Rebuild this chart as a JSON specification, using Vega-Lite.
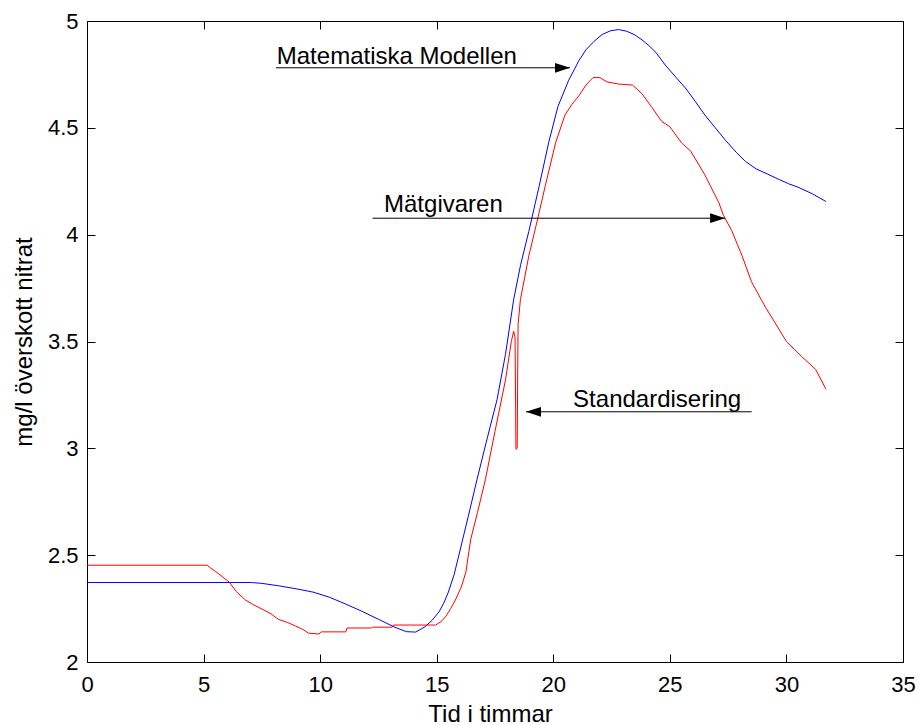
{
  "$schema": "https://vega.github.io/schema/vega-lite/v6.json",
  "autosize": "none",
  "width": 816,
  "height": 641,
  "padding": {"left": 87, "top": 21, "right": 15, "bottom": 63},
  "background": "white",
  "config": {
    "view": {"stroke": null},
    "font": "Liberation Sans",
    "axis": {
      "labelFont": "Liberation Sans",
      "labelFontSize": 22,
      "labelColor": "black",
      "titleFont": "Liberation Sans",
      "titleFontSize": 24,
      "titleFontWeight": "normal",
      "titleColor": "black",
      "domainColor": "black",
      "domainWidth": 1,
      "tickColor": "black",
      "tickWidth": 1,
      "tickSize": -8,
      "grid": false
    }
  },
  "datasets": {
    "lines": [
      {"series": "Matematiska modellen", "t": 0, "v": 2.372},
      {"series": "Matematiska modellen", "t": 7.05, "v": 2.372},
      {"series": "Matematiska modellen", "t": 7.5, "v": 2.368},
      {"series": "Matematiska modellen", "t": 8.2, "v": 2.357},
      {"series": "Matematiska modellen", "t": 9.0, "v": 2.342},
      {"series": "Matematiska modellen", "t": 9.7, "v": 2.327},
      {"series": "Matematiska modellen", "t": 10.4, "v": 2.303},
      {"series": "Matematiska modellen", "t": 11.1, "v": 2.271},
      {"series": "Matematiska modellen", "t": 11.8, "v": 2.237},
      {"series": "Matematiska modellen", "t": 12.5, "v": 2.2},
      {"series": "Matematiska modellen", "t": 13.2, "v": 2.163},
      {"series": "Matematiska modellen", "t": 13.7, "v": 2.142},
      {"series": "Matematiska modellen", "t": 14.1, "v": 2.14},
      {"series": "Matematiska modellen", "t": 14.5, "v": 2.165},
      {"series": "Matematiska modellen", "t": 14.8, "v": 2.195},
      {"series": "Matematiska modellen", "t": 15.1, "v": 2.235},
      {"series": "Matematiska modellen", "t": 15.3, "v": 2.275},
      {"series": "Matematiska modellen", "t": 15.5, "v": 2.327},
      {"series": "Matematiska modellen", "t": 15.75, "v": 2.41},
      {"series": "Matematiska modellen", "t": 15.95, "v": 2.5},
      {"series": "Matematiska modellen", "t": 16.35, "v": 2.68},
      {"series": "Matematiska modellen", "t": 16.73, "v": 2.855},
      {"series": "Matematiska modellen", "t": 17.15, "v": 3.04},
      {"series": "Matematiska modellen", "t": 17.59, "v": 3.229},
      {"series": "Matematiska modellen", "t": 17.95, "v": 3.44},
      {"series": "Matematiska modellen", "t": 18.3, "v": 3.696},
      {"series": "Matematiska modellen", "t": 18.6, "v": 3.86},
      {"series": "Matematiska modellen", "t": 18.95, "v": 4.015},
      {"series": "Matematiska modellen", "t": 19.4, "v": 4.23},
      {"series": "Matematiska modellen", "t": 19.8, "v": 4.43},
      {"series": "Matematiska modellen", "t": 20.2, "v": 4.6},
      {"series": "Matematiska modellen", "t": 20.65, "v": 4.72},
      {"series": "Matematiska modellen", "t": 21.1, "v": 4.815},
      {"series": "Matematiska modellen", "t": 21.4, "v": 4.865},
      {"series": "Matematiska modellen", "t": 21.75, "v": 4.905},
      {"series": "Matematiska modellen", "t": 22.1, "v": 4.937},
      {"series": "Matematiska modellen", "t": 22.45, "v": 4.954},
      {"series": "Matematiska modellen", "t": 22.8, "v": 4.96},
      {"series": "Matematiska modellen", "t": 23.15, "v": 4.952},
      {"series": "Matematiska modellen", "t": 23.5, "v": 4.935},
      {"series": "Matematiska modellen", "t": 23.85, "v": 4.908},
      {"series": "Matematiska modellen", "t": 24.1, "v": 4.885},
      {"series": "Matematiska modellen", "t": 24.4, "v": 4.853},
      {"series": "Matematiska modellen", "t": 24.8, "v": 4.794},
      {"series": "Matematiska modellen", "t": 25.25, "v": 4.738},
      {"series": "Matematiska modellen", "t": 25.7, "v": 4.682},
      {"series": "Matematiska modellen", "t": 26.1, "v": 4.622},
      {"series": "Matematiska modellen", "t": 26.5, "v": 4.56},
      {"series": "Matematiska modellen", "t": 26.95, "v": 4.5},
      {"series": "Matematiska modellen", "t": 27.4, "v": 4.44},
      {"series": "Matematiska modellen", "t": 27.85, "v": 4.385},
      {"series": "Matematiska modellen", "t": 28.25, "v": 4.342},
      {"series": "Matematiska modellen", "t": 28.7, "v": 4.308},
      {"series": "Matematiska modellen", "t": 29.2, "v": 4.283},
      {"series": "Matematiska modellen", "t": 29.65, "v": 4.26},
      {"series": "Matematiska modellen", "t": 30.1, "v": 4.238},
      {"series": "Matematiska modellen", "t": 30.5, "v": 4.222},
      {"series": "Matematiska modellen", "t": 31.1, "v": 4.192},
      {"series": "Matematiska modellen", "t": 31.7, "v": 4.155},
      {"series": "Mätgivaren", "t": 0, "v": 2.453},
      {"series": "Mätgivaren", "t": 5.15, "v": 2.453},
      {"series": "Mätgivaren", "t": 5.3, "v": 2.44},
      {"series": "Mätgivaren", "t": 5.5, "v": 2.425},
      {"series": "Mätgivaren", "t": 5.8, "v": 2.4},
      {"series": "Mätgivaren", "t": 6.1, "v": 2.374},
      {"series": "Mätgivaren", "t": 6.4, "v": 2.33},
      {"series": "Mätgivaren", "t": 6.8, "v": 2.29},
      {"series": "Mätgivaren", "t": 7.1, "v": 2.27},
      {"series": "Mätgivaren", "t": 7.5, "v": 2.248},
      {"series": "Mätgivaren", "t": 7.9, "v": 2.225},
      {"series": "Mätgivaren", "t": 8.2, "v": 2.2},
      {"series": "Mätgivaren", "t": 8.6, "v": 2.185},
      {"series": "Mätgivaren", "t": 8.95, "v": 2.168},
      {"series": "Mätgivaren", "t": 9.3, "v": 2.15},
      {"series": "Mätgivaren", "t": 9.5, "v": 2.135},
      {"series": "Mätgivaren", "t": 9.95, "v": 2.131},
      {"series": "Mätgivaren", "t": 10.05, "v": 2.141},
      {"series": "Mätgivaren", "t": 11.1, "v": 2.141},
      {"series": "Mätgivaren", "t": 11.15, "v": 2.159},
      {"series": "Mätgivaren", "t": 12.2, "v": 2.159},
      {"series": "Mätgivaren", "t": 12.25, "v": 2.163},
      {"series": "Mätgivaren", "t": 13.1, "v": 2.163},
      {"series": "Mätgivaren", "t": 13.15, "v": 2.173},
      {"series": "Mätgivaren", "t": 14.95, "v": 2.173},
      {"series": "Mätgivaren", "t": 15.2, "v": 2.19},
      {"series": "Mätgivaren", "t": 15.4, "v": 2.215},
      {"series": "Mätgivaren", "t": 15.6, "v": 2.25},
      {"series": "Mätgivaren", "t": 15.8, "v": 2.29},
      {"series": "Mätgivaren", "t": 16.05, "v": 2.35},
      {"series": "Mätgivaren", "t": 16.25, "v": 2.42},
      {"series": "Mätgivaren", "t": 16.46, "v": 2.575},
      {"series": "Mätgivaren", "t": 16.75, "v": 2.7},
      {"series": "Mätgivaren", "t": 17.09, "v": 2.855},
      {"series": "Mätgivaren", "t": 17.5, "v": 3.08},
      {"series": "Mätgivaren", "t": 17.95, "v": 3.32},
      {"series": "Mätgivaren", "t": 18.2, "v": 3.5},
      {"series": "Mätgivaren", "t": 18.3, "v": 3.548},
      {"series": "Mätgivaren", "t": 18.36, "v": 3.52},
      {"series": "Mätgivaren", "t": 18.4, "v": 2.995},
      {"series": "Mätgivaren", "t": 18.45, "v": 3.0},
      {"series": "Mätgivaren", "t": 18.49, "v": 3.58},
      {"series": "Mätgivaren", "t": 18.59, "v": 3.696},
      {"series": "Mätgivaren", "t": 18.95, "v": 3.9},
      {"series": "Mätgivaren", "t": 19.3, "v": 4.06},
      {"series": "Mätgivaren", "t": 19.66, "v": 4.23},
      {"series": "Mätgivaren", "t": 20.1, "v": 4.43},
      {"series": "Mätgivaren", "t": 20.5, "v": 4.56},
      {"series": "Mätgivaren", "t": 20.8, "v": 4.61},
      {"series": "Mätgivaren", "t": 21.1, "v": 4.65},
      {"series": "Mätgivaren", "t": 21.4, "v": 4.7},
      {"series": "Mätgivaren", "t": 21.7, "v": 4.735},
      {"series": "Mätgivaren", "t": 22.0, "v": 4.735},
      {"series": "Mätgivaren", "t": 22.3, "v": 4.715},
      {"series": "Mätgivaren", "t": 22.8, "v": 4.705},
      {"series": "Mätgivaren", "t": 23.4, "v": 4.7},
      {"series": "Mätgivaren", "t": 23.8, "v": 4.66},
      {"series": "Mätgivaren", "t": 24.2, "v": 4.6},
      {"series": "Mätgivaren", "t": 24.65, "v": 4.53},
      {"series": "Mätgivaren", "t": 25.0, "v": 4.505},
      {"series": "Mätgivaren", "t": 25.5, "v": 4.43},
      {"series": "Mätgivaren", "t": 25.9, "v": 4.39},
      {"series": "Mätgivaren", "t": 26.5, "v": 4.28},
      {"series": "Mätgivaren", "t": 27.1, "v": 4.15},
      {"series": "Mätgivaren", "t": 27.3, "v": 4.09},
      {"series": "Mätgivaren", "t": 27.65, "v": 4.02},
      {"series": "Mätgivaren", "t": 28.1, "v": 3.9},
      {"series": "Mätgivaren", "t": 28.5, "v": 3.78},
      {"series": "Mätgivaren", "t": 29.1, "v": 3.66},
      {"series": "Mätgivaren", "t": 29.5, "v": 3.59},
      {"series": "Mätgivaren", "t": 30.0, "v": 3.5},
      {"series": "Mätgivaren", "t": 30.65, "v": 3.43},
      {"series": "Mätgivaren", "t": 31.25, "v": 3.37},
      {"series": "Mätgivaren", "t": 31.7, "v": 3.276}
    ],
    "notes": [
      {"label": "Matematiska Modellen", "tx": 8.14, "ty": 4.797, "x1": 8.107, "x2": 20.717, "y": 4.781},
      {"label": "Mätgivaren", "tx": 12.74, "ty": 4.105, "x1": 12.25, "x2": 27.37, "y": 4.077},
      {"label": "Standardisering", "tx": 20.85, "ty": 3.192, "x1": 28.51, "x2": 18.83, "y": 3.171}
    ]
  },
  "resolve": {"axis": {"x": "independent", "y": "independent"}},
  "layer": [
    {
      "data": {"name": "lines"},
      "mark": {"type": "line", "strokeWidth": 1, "clip": true},
      "encoding": {
        "x": {"field": "t", "type": "quantitative", "scale": {"domain": [0, 35], "nice": false, "zero": false},
          "axis": {"orient": "bottom", "values": [0, 5, 10, 15, 20, 25, 30, 35], "title": "Tid i timmar", "labelPadding": 20, "titleX": 403, "titleY": 59, "titleAlign": "center", "titleBaseline": "alphabetic", "labelFlush": false}},
        "y": {"field": "v", "type": "quantitative", "scale": {"domain": [2, 5], "nice": false, "zero": false},
          "axis": {"orient": "left", "values": [2, 2.5, 3, 3.5, 4, 4.5, 5], "title": "mg/l överskott nitrat", "labelPadding": 17, "titleX": -56, "titleY": 320.5, "titleAngle": -90, "titleAlign": "center", "titleBaseline": "alphabetic", "labelFlush": false, "format": "~g"}},
        "color": {"field": "series", "type": "nominal", "scale": {"domain": ["Matematiska modellen", "Mätgivaren"], "range": ["#0000ff", "#ff0000"]}, "legend": null}
      }
    },
    {
      "data": {"name": "lines"},
      "mark": {"type": "point", "opacity": 0},
      "encoding": {
        "x": {"field": "t", "type": "quantitative", "scale": {"domain": [0, 35], "nice": false, "zero": false},
          "axis": {"orient": "top", "values": [0, 5, 10, 15, 20, 25, 30, 35], "labels": false, "title": null}},
        "y": {"field": "v", "type": "quantitative", "scale": {"domain": [2, 5], "nice": false, "zero": false},
          "axis": {"orient": "right", "values": [2, 2.5, 3, 3.5, 4, 4.5, 5], "labels": false, "title": null}}
      }
    },
    {
      "data": {"name": "notes"},
      "mark": {"type": "rule", "color": "black", "strokeWidth": 1},
      "encoding": {
        "x": {"field": "x1", "type": "quantitative", "scale": {"domain": [0, 35], "nice": false, "zero": false}, "axis": null},
        "x2": {"field": "x2"},
        "y": {"field": "y", "type": "quantitative", "scale": {"domain": [2, 5], "nice": false, "zero": false}, "axis": null}
      }
    },
    {
      "data": {"name": "notes"},
      "mark": {"type": "point", "filled": true, "color": "black", "opacity": 1, "size": 225, "strokeWidth": 0},
      "encoding": {
        "x": {"field": "x2", "type": "quantitative", "scale": {"domain": [0, 35], "nice": false, "zero": false}, "axis": null},
        "y": {"field": "y", "type": "quantitative", "scale": {"domain": [2, 5], "nice": false, "zero": false}, "axis": null},
        "shape": {"condition": {"test": "datum.x2 < datum.x1", "value": "M0,0L2,-0.65L2,0.65Z"}, "value": "M0,0L-2,-0.65L-2,0.65Z"}
      }
    },
    {
      "data": {"name": "notes"},
      "mark": {"type": "text", "align": "left", "baseline": "alphabetic", "font": "Liberation Sans", "fontSize": 24, "color": "black"},
      "encoding": {
        "x": {"field": "tx", "type": "quantitative", "scale": {"domain": [0, 35], "nice": false, "zero": false}, "axis": null},
        "y": {"field": "ty", "type": "quantitative", "scale": {"domain": [2, 5], "nice": false, "zero": false}, "axis": null},
        "text": {"field": "label"}
      }
    }
  ]
}
